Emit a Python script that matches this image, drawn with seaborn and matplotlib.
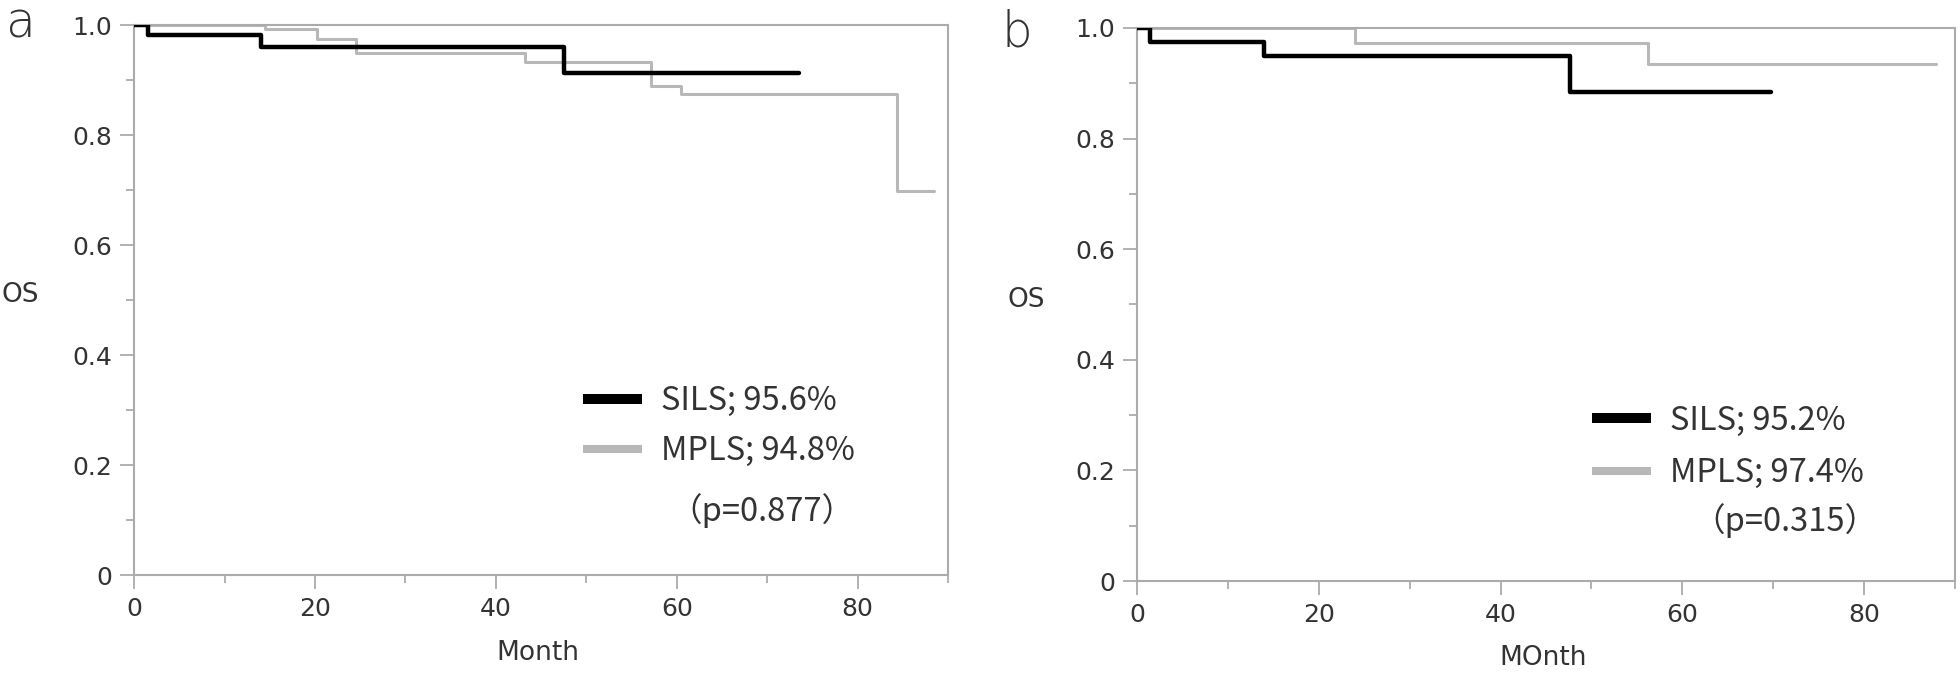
import matplotlib
matplotlib.use("Agg")
import matplotlib.pyplot as plt
import seaborn as sns
from matplotlib.ticker import MultipleLocator, FixedLocator, FixedFormatter

# Kaplan-Meier step points (month, overall survival)
sils_a_month = [0, 1.5, 14.0, 47.5, 73.5]
sils_a_os = [1.0, 0.982, 0.960, 0.912, 0.912]
mpls_a_month = [0, 14.5, 20.2, 24.5, 43.2, 57.2, 60.5, 84.4, 88.5]
mpls_a_os = [1.0, 0.992, 0.975, 0.950, 0.932, 0.889, 0.874, 0.699, 0.699]

sils_b_month = [0, 1.4, 14.0, 47.6, 69.8]
sils_b_os = [1.0, 0.975, 0.950, 0.884, 0.884]
mpls_b_month = [0, 24.0, 56.2, 87.9]
mpls_b_os = [1.0, 0.972, 0.934, 0.934]

labels_a = ["SILS; 95.6%", "MPLS; 94.8%"]
labels_b = ["SILS; 95.2%", "MPLS; 97.4%"]
p_a = "（p=0.877）"
p_b = "（p=0.315）"
xlabel_a = "Month"
xlabel_b = "MOnth"

y_ticks = [0, 0.2, 0.4, 0.6, 0.8, 1.0]
y_ticklabels = ["0", "0.2", "0.4", "0.6", "0.8", "1.0"]

GRAY = "#b8b8b8"
FRAME = "#ababab"
TXT = "#333333"

sns.set_style("white")
plt.rcParams['font.family'] = ['DejaVu Sans']

fig = plt.figure(figsize=(19.6, 6.73), dpi=100)
ax_a = fig.add_axes([0.0684, 0.1456, 0.4153, 0.8172])
ax_b = fig.add_axes([0.5801, 0.1367, 0.4173, 0.8217])


def draw_panel(ax, s_t, s_os, m_t, m_os, labels, p_text, xlabel,
               leg_xy, spacing, p_xy, ylab_xy, xlab_xy):
    sns.lineplot(x=m_t, y=m_os, ax=ax, color=GRAY, lw=2.2,
                 drawstyle="steps-post", estimator=None, label=labels[1], zorder=2)
    sns.lineplot(x=s_t, y=s_os, ax=ax, color="black", lw=3.2,
                 drawstyle="steps-post", estimator=None, label=labels[0], zorder=3)

    ax.set_xlim(0, 90)
    ax.set_ylim(0, 1.0)
    ax.xaxis.set_major_locator(MultipleLocator(20))
    ax.xaxis.set_minor_locator(FixedLocator([10, 30, 50, 70, 90]))
    ax.yaxis.set_major_locator(FixedLocator(y_ticks))
    ax.yaxis.set_major_formatter(FixedFormatter(y_ticklabels))
    ax.yaxis.set_minor_locator(FixedLocator([0.1, 0.3, 0.5, 0.7, 0.9]))

    for sp in ax.spines.values():
        sp.set_color(FRAME)
        sp.set_linewidth(1.5)
    ax.tick_params(which="major", direction="out", length=10, width=1.3,
                   color=FRAME, labelsize=18, labelcolor=TXT, pad=6)
    ax.tick_params(which="minor", direction="out", length=6, width=1.3, color=FRAME)
    ax.tick_params(left=True, bottom=True, which="both")

    ax.set_ylabel("OS", rotation=0, fontsize=19, color=TXT, ha="center", va="center")
    ax.yaxis.set_label_coords(*ylab_xy)
    ax.set_xlabel(xlabel, fontsize=19, color=TXT, ha="center", va="center")
    ax.xaxis.set_label_coords(*xlab_xy)

    handles, lbls = ax.get_legend_handles_labels()
    leg = ax.legend(handles[::-1], lbls[::-1], loc="center left",
                    bbox_to_anchor=leg_xy, frameon=False, borderpad=0,
                    borderaxespad=0, handlelength=1.8, handletextpad=0.6,
                    labelspacing=spacing,
                    prop={"family": ["Noto Sans CJK JP", "DejaVu Sans"], "size": 23.5})
    lws = [7.2, 5.8]
    for line, lw in zip(leg.get_lines(), lws):
        line.set_linewidth(lw)
        line.set_solid_capstyle("butt")
    for t in leg.get_texts():
        t.set_color(TXT)

    ax.text(p_xy[0], p_xy[1], p_text, transform=ax.transAxes, ha="center",
            va="center", fontsize=23.5, color=TXT,
            family=["Noto Sans CJK JP", "DejaVu Sans"])


draw_panel(ax_a, sils_a_month, sils_a_os, mpls_a_month, mpls_a_os, labels_a,
           p_a, xlabel_a, (0.5516, 0.2709), 0.55, (0.7715, 0.118),
           (-0.140, 0.509), (0.496, -0.142))
draw_panel(ax_b, sils_b_month, sils_b_os, mpls_b_month, mpls_b_os, labels_b,
           p_b, xlabel_b, (0.5562, 0.2423), 0.62, (0.7916, 0.110),
           (-0.1357, 0.508), (0.496, -0.139))

fig.text(0.0105, 0.944, "a", fontsize=35, fontweight="light", color=TXT,
         ha="center", va="baseline")
fig.text(0.519, 0.931, "b", fontsize=35, fontweight="light", color=TXT,
         ha="center", va="baseline")

fig.savefig("out.png", dpi=100, facecolor="white")
